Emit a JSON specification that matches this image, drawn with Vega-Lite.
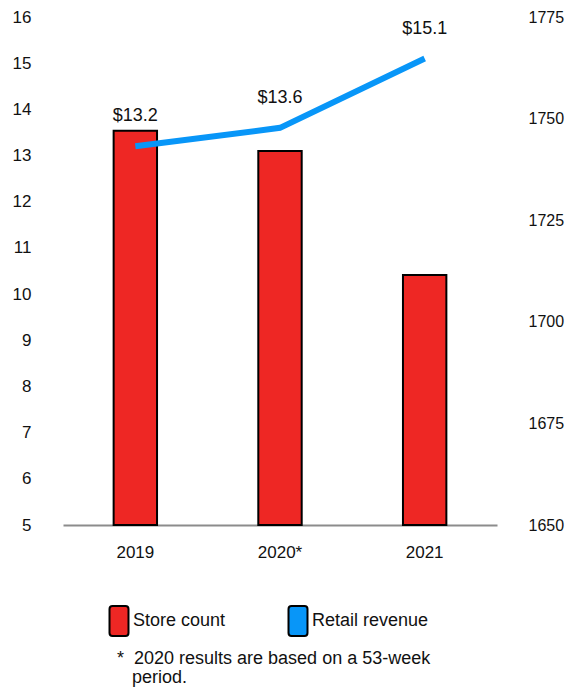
{
  "$schema": "https://vega.github.io/schema/vega-lite/v6.json",
  "width": 434,
  "height": 508,
  "autosize": {"type": "none"},
  "padding": {"left": 63, "top": 17, "right": 78, "bottom": 163},
  "background": "white",
  "config": {
    "view": {"stroke": null},
    "font": "Liberation Sans",
    "axis": {"grid": false, "ticks": false, "labelColor": "#111", "labelFont": "Liberation Sans", "title": null},
    "text": {"font": "Liberation Sans"},
    "legend": {
      "symbolStrokeColor": "black",
      "symbolStrokeWidth": 2,
      "symbolOpacity": 1
    }
  },
  "title": {
    "text": ["*\u00a0\u00a02020 results are based on a 53-week", "\u200b\u00a0\u00a0\u00a0period."],
    "orient": "bottom",
    "anchor": "start",
    "frame": "group",
    "dx": 54,
    "offset": 10,
    "fontSize": 18,
    "fontWeight": "normal",
    "lineHeight": 19,
    "color": "#111",
    "font": "Liberation Sans"
  },
  "data": {
    "values": [
      {"year": "2019", "stores": 1747, "revenue": 13.2},
      {"year": "2020*", "stores": 1742, "revenue": 13.6},
      {"year": "2021", "stores": 1711.5, "revenue": 15.1}
    ]
  },
  "encoding": {
    "x": {
      "field": "year",
      "type": "ordinal",
      "sort": null,
      "scale": {"paddingInner": 0.7, "paddingOuter": 0.35},
      "axis": {"labelAngle": 0, "domainColor": "#8c8c8c", "domainWidth": 2, "labelFontSize": 17, "labelPadding": 19}
    }
  },
  "layer": [
    {
      "mark": {"type": "bar", "strokeWidth": 2},
      "encoding": {
        "y": {
          "field": "stores",
          "type": "quantitative",
          "scale": {"domain": [1650, 1775], "zero": false, "nice": false},
          "axis": {"orient": "right", "values": [1650, 1675, 1700, 1725, 1750, 1775], "format": "d", "domain": false, "labelFontSize": 16, "labelPadding": 31}
        },
        "y2": {"datum": 1650},
        "fill": {
          "datum": "Store count",
          "scale": {"domain": ["Store count", "Retail revenue"], "range": ["#ee2724", "#0896f8"]},
          "legend": {
            "title": null,
            "orient": "none",
            "legendX": 40,
            "legendY": 588,
            "direction": "horizontal",
            "labelFontSize": 18,
            "labelColor": "#111",
            "labelFont": "Liberation Sans",
            "symbolSize": 900,
            "labelOffset": -2,
            "columnPadding": 56,
            "symbolStrokeColor": "black",
            "symbolStrokeWidth": 2,
            "symbolType": "M-0.433,-1H0.433Q0.633,-1 0.633,-0.8V0.8Q0.633,1 0.433,1H-0.433Q-0.633,1 -0.633,0.8V-0.8Q-0.633,-1 -0.433,-1Z"
          }
        },
        "stroke": {
          "datum": "Store count",
          "scale": {"domain": ["Store count", "Retail revenue"], "range": ["#000000", "#000000"]},
          "legend": {
            "title": null,
            "orient": "none",
            "legendX": 40,
            "legendY": 588,
            "direction": "horizontal",
            "labelFontSize": 18,
            "labelColor": "#111",
            "labelFont": "Liberation Sans",
            "symbolSize": 900,
            "labelOffset": -2,
            "columnPadding": 56,
            "symbolStrokeWidth": 2,
            "symbolFillColor": "transparent",
            "symbolType": "M-0.433,-1H0.433Q0.633,-1 0.633,-0.8V0.8Q0.633,1 0.433,1H-0.433Q-0.633,1 -0.633,0.8V-0.8Q-0.633,-1 -0.433,-1Z"
          }
        }
      }
    },
    {
      "encoding": {
        "y": {
          "field": "revenue",
          "type": "quantitative",
          "scale": {"domain": [5, 16], "zero": false, "nice": false},
          "axis": {"orient": "left", "values": [5, 6, 7, 8, 9, 10, 11, 12, 13, 14, 15, 16], "domain": false, "labelFontSize": 17, "labelPadding": 32}
        }
      },
      "layer": [
        {
          "mark": {"type": "line", "strokeWidth": 6, "strokeCap": "butt"},
          "encoding": {
            "color": {
              "datum": "Retail revenue",
              "scale": {"domain": ["Store count", "Retail revenue"], "range": ["#ee2724", "#0896f8"]},
              "legend": null
            }
          }
        },
        {
          "mark": {"type": "text", "dy": -30, "fontSize": 18, "color": "#111", "baseline": "middle"},
          "encoding": {
            "text": {"field": "revenue", "type": "quantitative", "format": "$.1f"}
          }
        }
      ]
    }
  ],
  "resolve": {"scale": {"y": "independent"}}
}
